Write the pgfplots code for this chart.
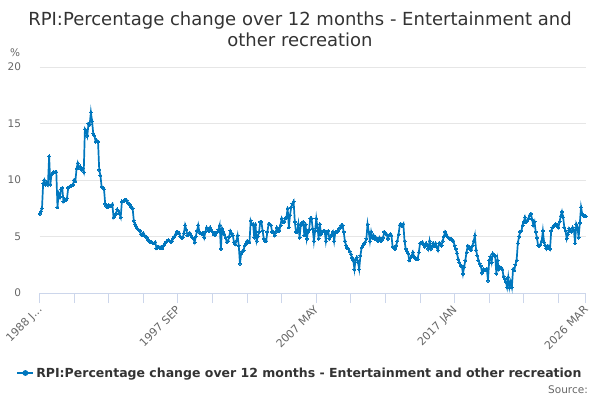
\documentclass[border=0pt]{standalone}
\usepackage{pgfplots}
\usepackage{pgfplotstable}
\pgfplotsset{compat=1.18}
\usepackage{fontspec}
\setmainfont{DejaVu Sans}
\definecolor{series}{HTML}{0077BE}
\definecolor{gridc}{HTML}{E6E6E6}
\definecolor{axisc}{HTML}{CCD6EB}
\definecolor{txt}{HTML}{333333}
\definecolor{lbl}{HTML}{666666}
\newcommand\firstlab{1988 J...}
\pgfplotstableread{
v
7.0
7.2
7.5
9.7
10.0
9.6
9.8
9.6
12.1
9.6
10.5
10.6
10.7
10.7
10.7
7.6
8.8
8.5
9.2
9.3
8.1
8.3
8.2
8.4
9.3
9.4
9.5
9.5
9.6
10.0
9.9
11.0
11.5
11.1
11.2
10.9
11.0
10.7
14.5
14.3
13.9
15.0
14.9
16.0
15.2
14.1
13.9
13.4
13.5
13.4
10.9
10.4
9.4
9.3
9.2
7.9
7.7
7.6
7.8
7.7
7.7
7.85
6.7
6.9
7.0
7.4
7.3
7.0
6.7
8.1
8.1
8.2
8.2
8.2
8.0
7.9
7.8
7.6
7.5
6.4
6.1
5.9
5.7
5.6
5.5
5.2
5.1
5.3
5.1
5.0
4.9
4.7
4.6
4.5
4.5
4.4
4.4
4.5
3.95
4.1
4.1
4.0
4.1
3.95
4.2
4.4
4.5
4.6
4.7
4.6
4.5
4.6
4.85
5.0
5.2
5.4
5.4
5.3
5.0
4.9
4.9
5.3
6.0
5.6
5.1
5.2
5.3
5.1
4.9
4.8
4.5
5.0
5.5
6.0
5.4
5.3
5.2
5.3
4.9
5.4
5.8
5.7
5.5
5.8
5.6
5.4
5.2
5.1
5.3
5.4
5.6
6.0
3.9
5.7
5.4
5.2
4.9
4.5
4.6
5.0
5.5
5.3
5.1
4.5
4.3
4.6
5.1
4.2
2.6
3.5
3.7
3.8
4.2
4.35
4.6
4.5
4.5
6.4
6.1
6.1
4.9
6.1
4.6
5.0
5.4
6.3
6.3
5.5
4.8
4.6
4.6
5.4
6.1
6.1
6.0
5.4
5.4
5.1
5.4
5.8
5.6
5.5
6.0
6.6
6.3
6.3
6.6
6.7
7.5
5.8
6.9
7.6
7.9
8.1
6.3
5.4
5.4
6.1
4.9
6.0
6.2
6.3
5.1
6.1
4.8
5.4
5.6
6.6
6.6
5.7
4.6
5.5
6.6
5.8
4.8
6.1
5.2
5.4
5.5
5.5
4.6
5.4
5.5
4.8
5.0
5.2
5.4
4.6
5.4
5.4
5.5
5.7
5.8
6.0
6.0
5.4
4.6
4.2
4.0
3.9
3.7
3.45
3.1
2.9
2.1
3.0
3.15
2.7
2.1
3.3
4.0
4.2
4.35
4.5
4.8
6.1
5.4
4.6
5.4
4.9
5.1
4.8
4.9
4.7
4.6
4.9
4.6
4.7
4.9
5.4
5.3
5.2
4.8
5.1
5.2
5.1
4.1
4.0
3.9
4.2
4.6
5.2
6.0
6.1
5.9
6.1
4.6
3.9
3.7
3.5
2.9
3.1
3.3
3.6
3.2
3.1
3.0
3.0
3.6
4.4
4.4
4.5
4.3
4.1
4.4
4.2
3.9
4.6
3.9
4.1
4.4
4.2
4.4
4.1
3.8
4.4
4.3
4.2
4.6
5.0
5.4
5.2
5.0
4.9
4.8
4.8
4.7
4.6
4.2
3.9
3.5
3.0
2.7
2.4
2.4
1.7
2.3
2.9
3.6
4.2
4.1
3.9
3.8
4.2
4.6
5.1
3.8
3.3
2.9
2.6
2.4
1.8
2.1
2.0
2.0
2.1
1.1
2.9
3.2
2.7
3.5
3.4
3.3
1.7
2.9
2.1
2.3
2.2
2.1
1.5
1.25
1.0
0.5
1.4
0.5
1.0
0.5
2.1
2.0
2.5
2.9
4.4
5.0
5.4
5.5
6.0
6.3
6.7
6.3
6.4
6.6
6.9
7.0
6.5
6.0
6.3
5.4
4.9
4.2
4.2
4.3
4.6
5.5
4.5
4.2
3.9
4.2
4.1
3.9
5.5
5.8
5.9
6.0
6.1
6.0
5.8
6.3
6.8
7.2
6.7
5.8
5.5
4.8
5.2
5.7
5.5
5.4
5.8
5.6
4.4
6.1
5.8
4.9
6.2
7.6
7.0
6.9
6.8
6.8
}\datatable
\begin{document}
\begin{tikzpicture}[x=1pt,y=1pt]
\path[use as bounding box] (0,0) rectangle (600,400);
\node[font=\fontsize{18}{21}\selectfont, text=txt, anchor=base] at (300,374) {RPI:Percentage change over 12 months - Entertainment and};
\node[font=\fontsize{18}{21}\selectfont, text=txt, anchor=base] at (300,353) {other recreation};
\node[font=\fontsize{10.5}{12}\selectfont, text=lbl, anchor=base west, inner sep=0pt] at (10,343) {\%};
\node[font=\fontsize{10.5}{12}\selectfont, text=lbl, anchor=base east, inner sep=0pt] at (588,7) {Source:};
\begin{axis}[
  at={(39.6pt,107pt)}, anchor=south west,
  scale only axis, width=546.2pt, height=226pt,
  xmin=0, xmax=458, ymin=0, ymax=20,
  axis lines*=left,
  x axis line style={draw=axisc, line width=1pt, -},
  y axis line style={draw=none},
  ytick={0,5,10,15,20},
  ytick style={draw=none},
  ymajorgrids, grid style={gridc, line width=0.8pt},
  xtick={0,116,232,348,458},
  xticklabels={\firstlab, {1997 SEP}, {2007 MAY}, {2017 JAN}, {2026 MAR}},
  minor xtick={29,58,87,145,174,203,261,290,319,377,406,435},
  tick align=outside,
  major tick length=10pt, minor tick length=10pt,
  xtick style={draw=axisc, line width=1pt},
  minor x tick style={draw=axisc, line width=1pt},
  /pgf/number format/assume math mode=true,
  xticklabel style={rotate=45, anchor=north east, font=\fontsize{11}{13}\selectfont, text=lbl, inner sep=1pt, xshift=-2pt, yshift=2pt},
  yticklabel style={font=\fontsize{10.5}{12}\selectfont, text=lbl, anchor=east, xshift=-5pt},
  legend style={at={(0.4767,-0.354)}, anchor=center, draw=none, fill=none, font=\bfseries\fontsize{12.5}{14}\selectfont, text=txt, inner sep=0pt},
  legend image code/.code={\draw[series, line width=1.8pt] (0pt,0pt) -- (16pt,0pt); \fill[series] (8pt,0pt) circle (2pt);},
  clip=false,
]
\addplot[series, line width=1.7pt, mark=*, mark size=1.5pt, mark options={fill=series, draw=series, line width=0pt}] table[x expr=\coordindex, y=v] {\datatable};
\addlegendentry{RPI:Percentage change over 12 months - Entertainment and other recreation}
\end{axis}
\end{tikzpicture}
\end{document}
